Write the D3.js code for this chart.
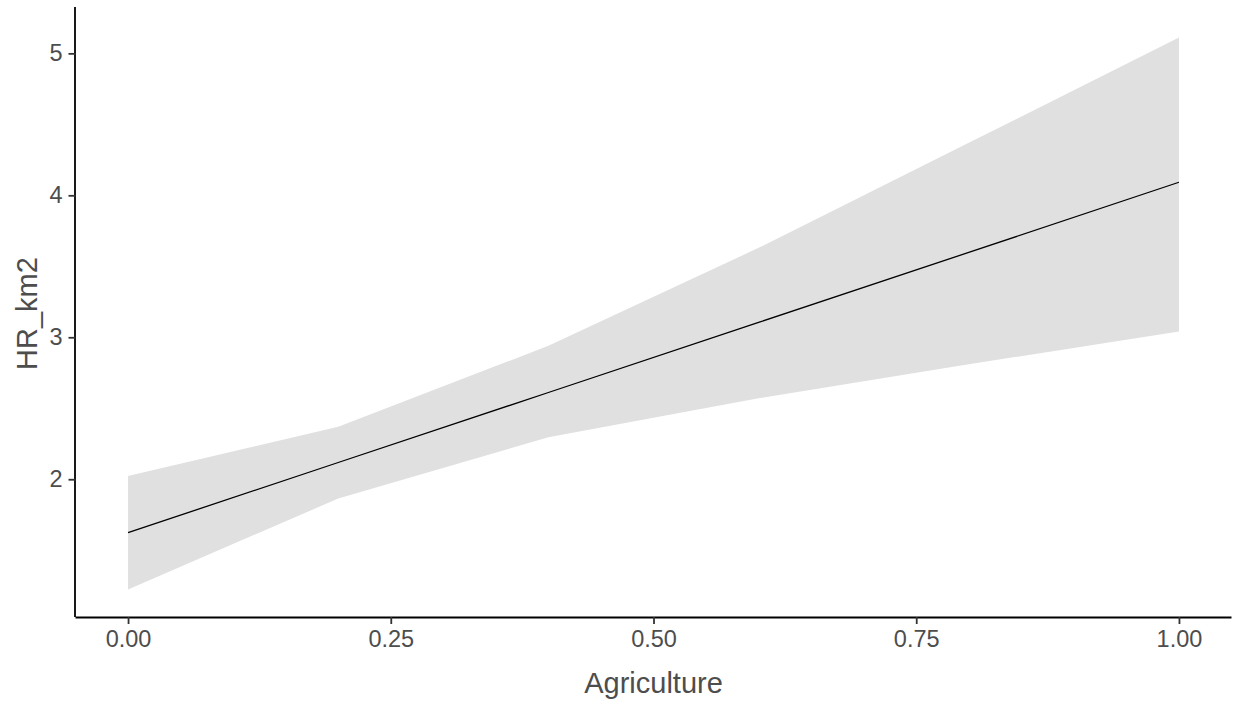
<!DOCTYPE html>
<html>
<head>
<meta charset="utf-8">
<script src="https://cdn.jsdelivr.net/npm/d3@7"></script>
<style>
  html, body { margin: 0; padding: 0; background: #fff; }
  svg { display: block; font-family: "Liberation Sans", Arial, sans-serif; }
</style>
</head>
<body>
<svg id="chart" width="1235" height="708"></svg>
<script>
// Data
const agriculture = [0, 0.2, 0.4, 0.6, 0.8, 1.0];
const predicted   = [1.624, 2.118, 2.611, 3.105, 3.598, 4.092];
const ciLow       = [1.224, 1.864, 2.296, 2.57, 2.81, 3.04];
const ciHigh      = [2.023, 2.369, 2.94, 3.63, 4.37, 5.111];
const xTicks = [0, 0.25, 0.5, 0.75, 1.0];
const xTickLabels = ["0.00", "0.25", "0.50", "0.75", "1.00"];
const yTicks = [2, 3, 4, 5];
const xTitle = "Agriculture";
const yTitle = "HR_km2";

(function () {
const rows = agriculture.map((x, i) => ({ x, y: predicted[i], lo: ciLow[i], hi: ciHigh[i] }));

const svg = d3.select("#chart");
const pLeft = 75.5, pRight = 1231.5, pTop = 10, pBottom = 617;

const xMin = d3.min(agriculture), xMax = d3.max(agriculture);
const xPad = (xMax - xMin) * 0.05;
const yMin = d3.min(ciLow), yMax = d3.max(ciHigh);
const yPad = (yMax - yMin) * 0.05;

const x = d3.scaleLinear().domain([xMin - xPad, xMax + xPad]).range([pLeft, pRight]);
const y = d3.scaleLinear().domain([yMin - yPad, yMax + yPad]).range([pBottom, pTop]);

// ribbon
svg.append("path")
  .datum(rows)
  .attr("fill", "#E0E0E0")
  .attr("d", d3.area().x(d => x(d.x)).y0(d => y(d.lo)).y1(d => y(d.hi)));

// line
svg.append("path")
  .datum(rows)
  .attr("fill", "none")
  .attr("stroke", "#000")
  .attr("stroke-width", 1.3)
  .attr("d", d3.line().x(d => x(d.x)).y(d => y(d.y)));

const textColor = "#4D4D4D";

// x axis
const gx = svg.append("g").attr("transform", `translate(0,${pBottom})`)
  .call(d3.axisBottom(x).tickValues(xTicks).tickFormat((d, i) => xTickLabels[i]).tickSize(7).tickPadding(6));
gx.select(".domain").attr("stroke", "#000").attr("stroke-width", 1.8).attr("d", `M${pLeft},0.5H${pRight}`);
gx.selectAll(".tick line").attr("stroke", "#333").attr("stroke-width", 1.8);
gx.selectAll(".tick text").attr("fill", textColor).attr("font-size", 23.5).attr("font-family", "Liberation Sans, Arial, sans-serif");

// y axis
const gy = svg.append("g").attr("transform", `translate(${pLeft},0)`)
  .call(d3.axisLeft(y).tickValues(yTicks).tickFormat(d3.format("d")).tickSize(7).tickPadding(6));
gy.select(".domain").attr("stroke", "#000").attr("stroke-width", 1.8).attr("d", `M-0.5,${pTop - 3}V${pBottom}`);
gy.selectAll(".tick line").attr("stroke", "#333").attr("stroke-width", 1.8);
gy.selectAll(".tick text").attr("fill", textColor).attr("font-size", 23.5).attr("font-family", "Liberation Sans, Arial, sans-serif");

// titles
svg.append("text")
  .attr("x", (pLeft + pRight) / 2).attr("y", 693)
  .attr("text-anchor", "middle").attr("fill", textColor)
  .attr("font-size", 29).text(xTitle);

svg.append("text")
  .attr("transform", `translate(37,${(pTop + pBottom) / 2}) rotate(-90)`)
  .attr("text-anchor", "middle").attr("fill", textColor)
  .attr("font-size", 29).text(yTitle);
})();
</script>
</body>
</html>
